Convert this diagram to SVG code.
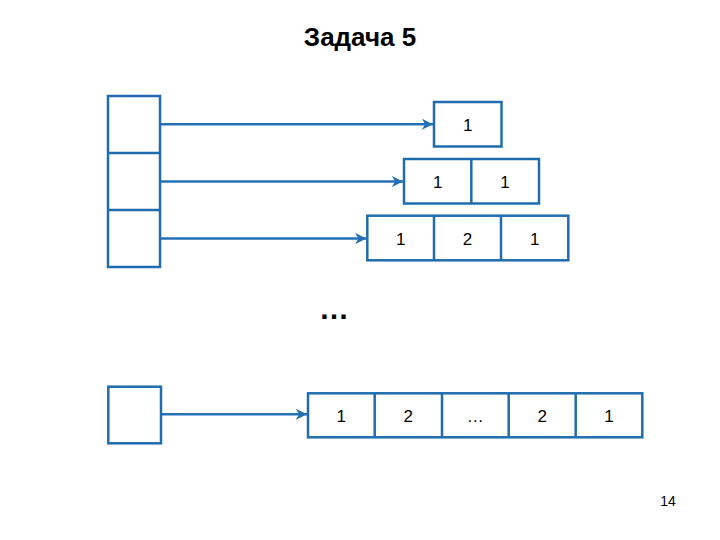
<svg xmlns="http://www.w3.org/2000/svg" width="720" height="540" viewBox="0 0 720 540">
<style>
.box{fill:#fff;stroke:#1f6db0;stroke-width:2.5}
.ln{fill:none;stroke:#1f6db0;stroke-width:2.5}
.arr{fill:none;stroke:#2470b5;stroke-width:2.5;marker-end:url(#ah)}
.t{font-family:"Liberation Sans",Arial,sans-serif;font-size:17px;fill:#000;text-anchor:middle}
</style>
<defs>
<marker id="ah" viewBox="0 0 10 10" refX="10" refY="5" markerWidth="4.5" markerHeight="4.5" orient="auto" markerUnits="strokeWidth">
<path d="M0,0 L10,5 L0,10 L3,5 Z" fill="#2470b5"/>
</marker>
</defs>
<rect width="720" height="540" fill="#fff"/>
<text x="360" y="46" font-family="'Liberation Sans',Arial,sans-serif" font-size="26" font-weight="bold" text-anchor="middle">Задача 5</text>

<g id="col">
<rect class="box" x="108" y="96" width="52" height="171"/>
<line class="ln" x1="108" y1="153" x2="160" y2="153"/>
<line class="ln" x1="108" y1="210" x2="160" y2="210"/>
</g>

<g id="row1">
<rect class="box" x="434" y="102" width="67.5" height="44.5"/>
<text class="t" x="467.7" y="130.5">1</text>
</g>
<g id="row2">
<rect class="box" x="404" y="159" width="135" height="44.5"/>
<line class="ln" x1="471.3" y1="159" x2="471.3" y2="203.5"/>
<text class="t" x="437.7" y="187.5">1</text>
<text class="t" x="505" y="187.5">1</text>
</g>
<g id="row3">
<rect class="box" x="367.3" y="215.7" width="201" height="44.6"/>
<line class="ln" x1="434" y1="215.7" x2="434" y2="260.3"/>
<line class="ln" x1="501" y1="215.7" x2="501" y2="260.3"/>
<text class="t" x="400.7" y="244.5">1</text>
<text class="t" x="467.5" y="244.5">2</text>
<text class="t" x="534.7" y="244.5">1</text>
</g>

<text x="334" y="319" font-family="'Liberation Sans',Arial,sans-serif" font-size="30" font-weight="bold" text-anchor="middle">…</text>

<g id="lastcell">
<rect class="box" x="108.3" y="386.7" width="52.7" height="56.6"/>
</g>
<g id="lastrow">
<rect class="box" x="308" y="393.3" width="334.3" height="44"/>
<line class="ln" x1="374.7" y1="393.3" x2="374.7" y2="437.3"/>
<line class="ln" x1="442" y1="393.3" x2="442" y2="437.3"/>
<line class="ln" x1="508.7" y1="393.3" x2="508.7" y2="437.3"/>
<line class="ln" x1="575.7" y1="393.3" x2="575.7" y2="437.3"/>
<text class="t" x="341.3" y="421.5">1</text>
<text class="t" x="408.3" y="421.5">2</text>
<text class="t" x="475.3" y="421.5">…</text>
<text class="t" x="542.2" y="421.5">2</text>
<text class="t" x="609" y="421.5">1</text>
</g>

<g id="connectors">
<line class="arr" x1="161" y1="124.3" x2="433" y2="124.3"/>
<line class="arr" x1="161" y1="181.5" x2="403" y2="181.5"/>
<line class="arr" x1="161" y1="238.5" x2="366.3" y2="238.5"/>
<line class="arr" x1="162" y1="414.3" x2="307" y2="414.3"/>
</g>

<text x="668" y="506" font-family="'Liberation Sans',Arial,sans-serif" font-size="14" text-anchor="middle">14</text>
</svg>
